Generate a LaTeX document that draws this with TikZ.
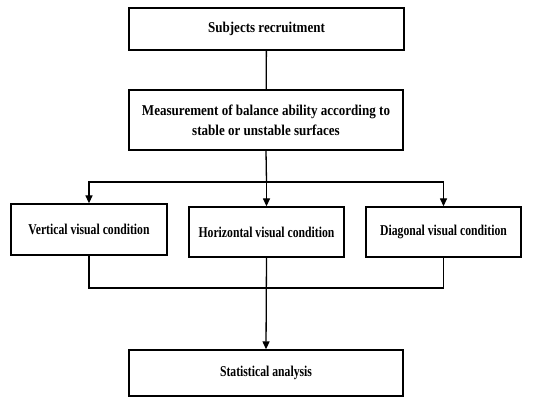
\documentclass[tikz,border=0pt]{standalone}
\usepackage{fontspec}
\setmainfont[FakeStretch=0.87]{Liberation Serif}
\newfontfamily\narrowserif[FakeStretch=0.78]{Liberation Serif}
\usetikzlibrary{arrows.meta}
\begin{document}
\begin{tikzpicture}[x=1pt,y=-1pt,
  box/.style={draw, line width=1.3pt, inner sep=0pt, align=center,
    font=\fontsize{15}{20}\selectfont\bfseries},
  nbox/.style={box, font=\narrowserif\fontsize{15}{20}\selectfont\bfseries},
  link/.style={line width=1.3pt},
  arr/.style={line width=1.3pt, -{Triangle[length=8pt,width=7pt]}}]
\useasboundingbox (0,0) rectangle (541,398);
\node[box, minimum width=275pt, minimum height=42pt] (rec) at (266.5,29) {Subjects recruitment};
\node[box, minimum width=274pt, minimum height=60pt] (meas) at (266,120) {Measurement of balance ability according to\\stable or unstable surfaces};
\node[nbox, minimum width=156pt, minimum height=51pt] (vert) at (89,229.5) {Vertical visual condition};
\node[nbox, minimum width=155pt, minimum height=50pt] (hor) at (266.5,232) {Horizontal visual condition};
\node[nbox, minimum width=155pt, minimum height=50pt] (diag) at (443.5,232) {Diagonal visual condition};
\node[nbox, minimum width=274pt, minimum height=46pt] (stat) at (266,373) {Statistical analysis};
\coordinate (j) at (266.5,182);
\coordinate (m) at (266.5,288);
\draw[link] (rec) -- (meas);
\draw[link] (meas.south) -- (j);
\draw[arr] (j) -| (vert.north);
\draw[arr] (j) -| (diag.north);
\draw[arr] (j) -- (hor.north);
\draw[link] (vert.south) |- (m) -| (diag.south);
\draw[arr] (hor.south) -- (stat.north);
\end{tikzpicture}
\end{document}
